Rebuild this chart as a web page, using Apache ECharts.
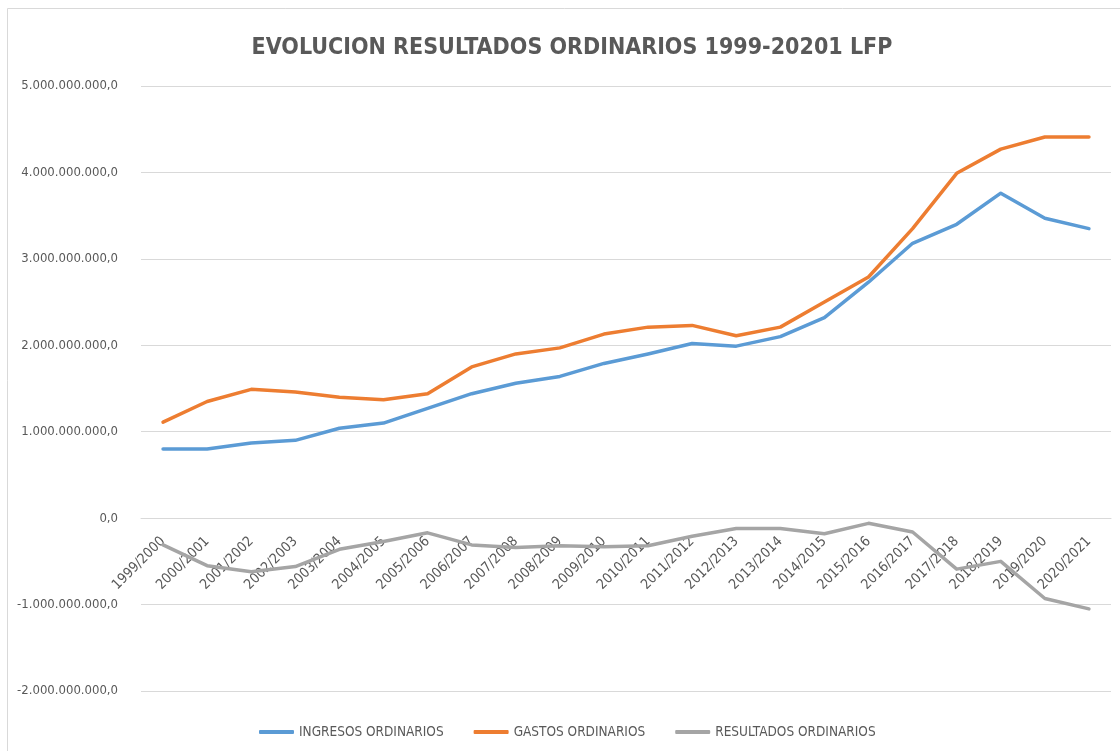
<!DOCTYPE html>
<html>
<head>
<meta charset="utf-8">
<title>EVOLUCION RESULTADOS ORDINARIOS 1999-20201 LFP</title>
<script src="https://cdn.jsdelivr.net/npm/echarts@6/dist/echarts.min.js"></script>
<style>
  html, body { margin: 0; padding: 0; background: #fff; }
  #chart { width: 1120px; height: 751px; }
</style>
</head>
<body>
<div id="chart"></div>
<script>
// temporadas
const categories = ['1999/2000', '2000/2001', '2001/2002', '2002/2003', '2003/2004', '2004/2005',
  '2005/2006', '2006/2007', '2007/2008', '2008/2009', '2009/2010', '2010/2011', '2011/2012',
  '2012/2013', '2013/2014', '2014/2015', '2015/2016', '2016/2017', '2017/2018', '2018/2019',
  '2019/2020', '2020/2021'];

// valores (euros)
const ingresos = [800000000, 800000000, 870000000, 900000000, 1040000000, 1100000000,
  1270000000, 1440000000, 1560000000, 1640000000, 1790000000, 1900000000, 2020000000,
  1990000000, 2100000000, 2320000000, 2730000000, 3180000000, 3400000000, 3760000000,
  3470000000, 3350000000];
const gastos = [1110000000, 1350000000, 1490000000, 1460000000, 1400000000, 1370000000,
  1440000000, 1750000000, 1900000000, 1970000000, 2130000000, 2210000000, 2230000000,
  2110000000, 2210000000, 2500000000, 2790000000, 3350000000, 3990000000, 4270000000,
  4410000000, 4410000000];
const resultados = [-310000000, -550000000, -620000000, -560000000, -360000000, -270000000,
  -170000000, -310000000, -340000000, -320000000, -330000000, -320000000, -210000000,
  -120000000, -120000000, -180000000, -60000000, -160000000, -590000000, -500000000,
  -930000000, -1050000000];

const seriesNames = ['INGRESOS ORDINARIOS', 'GASTOS ORDINARIOS', 'RESULTADOS ORDINARIOS'];
const colors = ['#5B9BD5', '#ED7D31', '#A5A5A5'];

const font = "'DejaVu Sans Condensed', 'Liberation Sans', sans-serif";

// formato 1.000.000.000,0
const fmt = v => {
  const s = Math.abs(v).toString().replace(/\B(?=(\d{3})+(?!\d))/g, '.');
  return (v < 0 ? '-' : '') + s + ',0';
};

const chart = echarts.init(document.getElementById('chart'));

const lineSeries = (name, data, color) => ({
  name: name,
  type: 'line',
  data: data,
  symbol: 'none',
  color: color,
  lineStyle: { width: 3.5, color: color, cap: 'round', join: 'round' },
  emphasis: { disabled: true }
});

// alto del grid y posicion del eje X en el valor 0
const gridTop = 86, gridBottom = 60, chartH = 751;
const yMin = -2000000000, yMax = 5000000000;
const plotH = chartH - gridTop - gridBottom;
const zeroOffset = -plotH * (0 - yMin) / (yMax - yMin);

chart.setOption({
  backgroundColor: '#fff',
  animation: false,
  title: {
    text: 'EVOLUCION RESULTADOS ORDINARIOS 1999-20201 LFP',
    left: 567,
    textAlign: 'center',
    top: 32,
    textStyle: { fontFamily: font, fontSize: 23, fontWeight: 'bold', color: '#595959' }
  },
  legend: {
    data: seriesNames,
    left: 254,
    top: 720,
    icon: 'roundRect',
    itemWidth: 35,
    itemHeight: 4,
    itemGap: 30,
    textStyle: { fontFamily: font, fontSize: 13.5, color: '#595959' }
  },
  grid: { left: 141, right: 9, top: gridTop, bottom: gridBottom, outerBoundsMode: 'none' },
  xAxis: {
    type: 'category',
    data: categories,
    boundaryGap: true,
    offset: zeroOffset,
    axisLine: { show: true, onZero: false, lineStyle: { color: '#D9D9D9' } },
    axisTick: { show: false },
    axisLabel: {
      rotate: 45,
      interval: 0,
      margin: 21,
      fontFamily: font,
      fontSize: 14,
      color: '#595959'
    }
  },
  yAxis: {
    type: 'value',
    min: yMin,
    max: yMax,
    interval: 1000000000,
    axisLine: { show: false },
    axisTick: { show: false },
    splitLine: { lineStyle: { color: '#D9D9D9', width: 1 } },
    axisLabel: {
      formatter: fmt,
      margin: 23,
      fontFamily: font,
      fontSize: 13,
      color: '#595959'
    }
  },
  graphic: [{
    type: 'rect',
    shape: { x: 7.5, y: 8.5, width: 1130, height: 760 },
    style: { fill: 'none', stroke: '#D9D9D9', lineWidth: 1 },
    silent: true
  }],
  series: [
    lineSeries(seriesNames[0], ingresos, colors[0]),
    lineSeries(seriesNames[1], gastos, colors[1]),
    lineSeries(seriesNames[2], resultados, colors[2])
  ]
});
</script>
</body>
</html>
